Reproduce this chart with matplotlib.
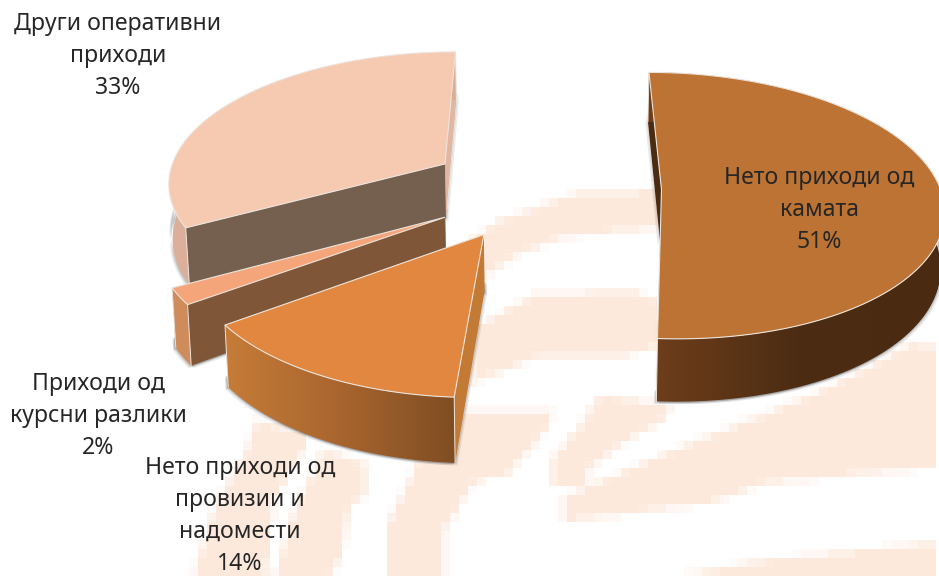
import matplotlib
matplotlib.use("Agg")
import matplotlib.pyplot as plt
import numpy as np
from matplotlib.colors import LinearSegmentedColormap
from matplotlib.patches import Polygon
from matplotlib.path import Path

plt.rcParams['font.family'] = ['Noto Sans', 'DejaVu Sans']

# Data
nazivi = ['Нето приходи од\nкамата', 'Нето приходи од\nпровизии и\nнадомести',
          'Приходи од\nкурсни разлики', 'Други оперативни\nприходи']
vrednosti = [51, 14, 2, 33]

# Colours per slice
boja_gore = ['#bd7333', '#e2873f', '#f4a67a', '#f6c9b1']
boja_strana = ['#4b2c13', '#c27a35', '#7f5638', '#75604f']
boja_zad = ['#4b2c13', '#c27a35', '#7f5638', '#dfb7a2']
boja_rub = [['#6f3f1b', '#4c2c13', '#4a2b12'], ['#c67c38', '#a8652e', '#7f4d23'],
            ['#cf8c5c', '#cf8c5c'], ['#dcb09a', '#d9ae97']]

# Exploded centre of every slice on the pie plane
centar_x = [116, -58.5, -97, -102]
centar_y = [-0.035, -0.365, -0.24, 0.165]

# Perspective camera
VX, VY = 545, -900
DIST = 1085
K = 0.12
RX = 278
DUBINA = 55
BLAGO = 0.01
SVETLO = '#ece4dc'


def proj(x, y, z=0.0):
    # plane point to figure pixels, z is how far below the top face
    w = 1 + K * y
    sx = VX + x / w * (1 - BLAGO * z / DUBINA)
    sy = VY + (DIST + z) / w
    return sx, sy


def luk(i, a0, a1, z=0.0, n=120):
    t = np.radians(np.linspace(a0, a1, n))
    return proj(centar_x[i] + RX * np.sin(t), centar_y[i] + np.cos(t), z)


def radijus(i, a, z=0.0):
    t = np.radians(a)
    xs = np.array([centar_x[i], centar_x[i] + RX * np.sin(t)])
    ys = np.array([centar_y[i], centar_y[i] + np.cos(t)])
    return proj(xs, ys, z)


def strana(i, a, z0=0.0):
    x0, y0 = radijus(i, a, z0)
    x1, y1 = radijus(i, a, DUBINA)
    return np.column_stack([np.r_[x0, x1[::-1]], np.r_[y0, y1[::-1]]])


def rub(i, a0, a1, z0=0.0):
    x0, y0 = luk(i, a0, a1, z0)
    x1, y1 = luk(i, a0, a1, DUBINA)
    return np.column_stack([np.r_[x0, x1[::-1]], np.r_[y0, y1[::-1]]])


fig = plt.figure(figsize=(9.39, 5.77), dpi=100)
ax = fig.add_axes([0, 0, 1, 1])

# Pale blocky logo in the background
logo = [
    [(500, 220), (580, 192), (657, 190), (657, 228), (563, 237), (513, 257), (482, 280), (470, 240)],
    [(470, 330), (537, 293), (637, 292), (657, 300), (657, 347), (620, 357), (537, 357), (513, 367), (470, 385)],
    [(420, 412), (553, 412), (547, 430), (520, 460), (506, 477), (488, 477), (470, 487), (456, 513),
     (443, 530), (443, 577), (388, 577), (388, 523), (404, 490), (415, 470)],
    [(257, 420), (305, 433), (305, 448), (273, 503), (267, 577), (193, 577), (210, 520), (230, 480), (247, 447)],
    [(323, 450), (366, 463), (366, 493), (350, 507), (341, 557), (330, 577), (275, 577), (290, 520)],
    [(599, 395), (673, 405), (664, 420), (628, 440), (587, 470), (587, 485), (553, 485), (553, 458), (583, 422)],
    [(939, 345), (913, 343), (830, 387), (767, 413), (673, 450), (627, 470), (563, 497), (563, 522),
     (710, 503), (767, 483), (939, 467)],
    [(673, 577), (764, 560), (841, 552), (939, 542), (939, 577)],
]
gx, gy = np.meshgrid(np.arange(1.5, 939, 3), np.arange(1.5, 577, 3))
tacke = np.column_stack([gx.ravel(), gy.ravel()])
maska = np.zeros(len(tacke), dtype=bool)
for oblik in logo:
    maska |= Path(oblik).contains_points(tacke)
maska = maska.reshape(gx.shape)
nr, nc = maska.shape[0] // 3, maska.shape[1] // 3
blok = maska[:nr * 3, :nc * 3].reshape(nr, 3, nc, 3).mean(axis=(1, 3))
logo_cm = LinearSegmentedColormap.from_list('logo', ['#ffffff', '#fde9dc'])
ax.imshow(blok, extent=(0, nc * 9, nr * 9, 0), cmap=logo_cm, vmin=0, vmax=1,
          interpolation='nearest', aspect='auto', zorder=0)

# Slices run clockwise from the top, back ones are painted first
granice = np.cumsum([0] + vrednosti) / sum(vrednosti) * 360
zo = 1
for i in [3, 2, 1, 0]:
    a0, a1 = granice[i], granice[i + 1]

    # soft shadow along the base of the walls, only on the part facing the viewer
    z_sen = DUBINA * 0.8
    prednji = np.clip([a0, a1], 90, 270)
    for dx, alfa in [(1.2, 0.22), (-1.2, 0.22), (2.5, 0.12), (-2.5, 0.12)]:
        delovi = [strana(i, a0, z_sen), strana(i, a1, z_sen)]
        if prednji[1] > prednji[0]:
            delovi.append(rub(i, prednji[0], prednji[1], z_sen))
        for poli in delovi:
            ax.add_patch(Polygon(poli + [dx, abs(dx)], closed=True, fc='#555555', ec='none',
                                 alpha=alfa, zorder=zo))
    zo += 1

    ax.add_patch(Polygon(strana(i, a1), closed=True, fc=boja_zad[i], ec='none', zorder=zo))
    zo += 1
    ax.add_patch(Polygon(strana(i, a0), closed=True, fc=boja_strana[i], ec='none', zorder=zo))
    zo += 1

    # curved wall with a horizontal gradient
    zid = rub(i, a0, a1)
    cm = LinearSegmentedColormap.from_list('rub%d' % i, boja_rub[i])
    slika = ax.imshow(np.linspace(0, 1, 256).reshape(1, -1), cmap=cm, aspect='auto', zorder=zo,
                      extent=(zid[:, 0].min(), zid[:, 0].max(), zid[:, 1].max(), zid[:, 1].min()))
    slika.set_clip_path(Polygon(zid, closed=True, transform=ax.transData))
    zo += 1

    # light vertical edges at the outer ends of the wall
    for a in [a0, a1]:
        ex0, ey0 = radijus(i, a)
        ex1, ey1 = radijus(i, a, DUBINA)
        ax.plot([ex0[1], ex1[1]], [ey0[1], ey1[1]], color=SVETLO, lw=0.7, zorder=zo)
    zo += 1

    # top face
    lx, ly = luk(i, a0, a1)
    cx, cy = proj(centar_x[i], centar_y[i])
    gore = np.column_stack([np.r_[cx, lx], np.r_[cy, ly]])
    ax.add_patch(Polygon(gore, closed=True, fc=boja_gore[i], ec=SVETLO, lw=0.8, zorder=zo))
    zo += 1

ax.set_xlim(0, 939)
ax.set_ylim(577, 0)
ax.axis('off')

# Data labels
pozicije = [(819, 210), (240, 516), (98, 416), (118, 56)]
for ime, v, (tx, ty) in zip(nazivi, vrednosti, pozicije):
    ax.text(tx, ty, '%s\n%d%%' % (ime, v), ha='center', va='center', fontsize=16.6,
            color='#262626', linespacing=1.45, zorder=zo)

fig.savefig('out.png', dpi=100)
